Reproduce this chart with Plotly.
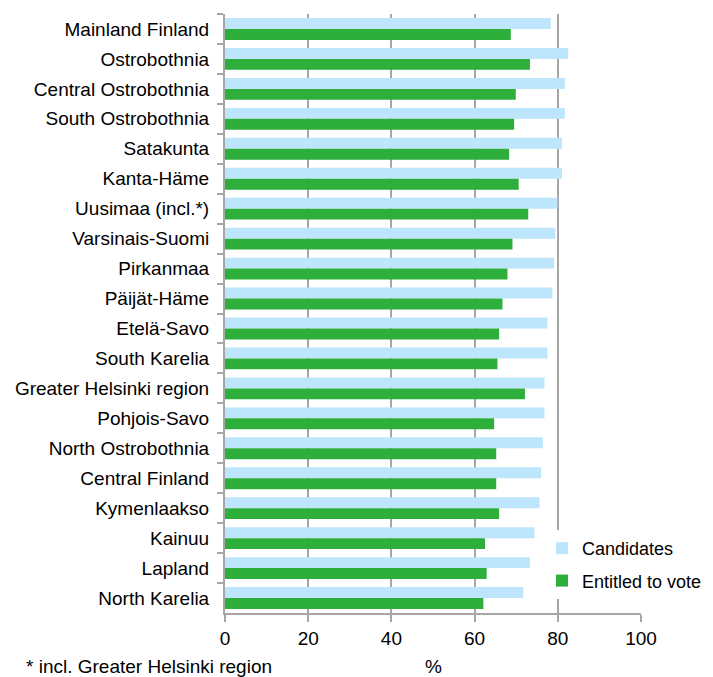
import plotly.graph_objects as go

regions = [
    "Mainland Finland", "Ostrobothnia", "Central Ostrobothnia", "South Ostrobothnia",
    "Satakunta", "Kanta-Häme", "Uusimaa (incl.*)", "Varsinais-Suomi", "Pirkanmaa",
    "Päijät-Häme", "Etelä-Savo", "South Karelia", "Greater Helsinki region",
    "Pohjois-Savo", "North Ostrobothnia", "Central Finland", "Kymenlaakso",
    "Kainuu", "Lapland", "North Karelia",
]
candidates = [78.3, 82.5, 81.7, 81.7, 81.0, 81.0, 79.9, 79.4, 79.1, 78.7,
              77.5, 77.5, 76.8, 76.8, 76.4, 76.0, 75.6, 74.4, 73.3, 71.7]
entitled = [68.7, 73.3, 69.9, 69.5, 68.3, 70.6, 72.9, 69.1, 67.9, 66.7,
            65.9, 65.5, 72.1, 64.7, 65.2, 65.2, 65.9, 62.5, 62.9, 62.1]
x_ticks = [0, 20, 40, 60, 80, 100]

FONT = "Liberation Sans, Arial, sans-serif"
GRID = "#a6a6a6"

fig = go.Figure()
fig.add_trace(go.Bar(y=regions, x=candidates, orientation="h", name="Candidates",
                     marker=dict(color="#bde6fc", line=dict(width=0)), legendgroup="a"))
fig.add_trace(go.Bar(y=regions, x=entitled, orientation="h", name="Entitled to vote",
                     marker=dict(color="#2eae3a", line=dict(width=0)), legendgroup="b"))

fig.update_layout(
    width=713, height=677,
    margin=dict(l=217, r=80, t=6, b=72),
    paper_bgcolor="white", plot_bgcolor="white",
    barmode="group", bargap=0.27, bargroupgap=0,
    font=dict(family=FONT, size=19, color="#000000"),
    showlegend=True,
    legend=dict(x=0.762, y=0.1386, xanchor="left", yanchor="top",
                bgcolor="white", font=dict(family=FONT, size=18),
                traceorder="grouped", tracegroupgap=6,
                itemclick=False),
    xaxis=dict(range=[0, 100], tickvals=x_ticks, ticktext=[str(v) for v in x_ticks],
               showgrid=True, gridcolor=GRID, gridwidth=2, zeroline=False,
               showline=True, linecolor=GRID, linewidth=2,
               ticks="outside", ticklen=7, tickcolor=GRID, tickwidth=2,
               tickfont=dict(family=FONT, size=19), fixedrange=True),
    yaxis=dict(autorange="reversed", type="category", showgrid=False,
               showline=True, linecolor=GRID, linewidth=2,
               ticks="outside", ticklen=6, tickcolor=GRID, tickwidth=2,
               tickson="boundaries", ticklabelstandoff=10,
               tickfont=dict(family=FONT, size=19), fixedrange=True),
    annotations=[
        dict(text="%", xref="paper", yref="paper", x=0.502, y=-0.0885,
             xanchor="center", yanchor="middle", showarrow=False,
             font=dict(family=FONT, size=19)),
        dict(text="* incl. Greater Helsinki region", xref="paper", yref="paper",
             x=-0.483, y=-0.0885, xanchor="left", yanchor="middle", showarrow=False,
             font=dict(family=FONT, size=19)),
    ],
)

fig.write_html("out.html")
